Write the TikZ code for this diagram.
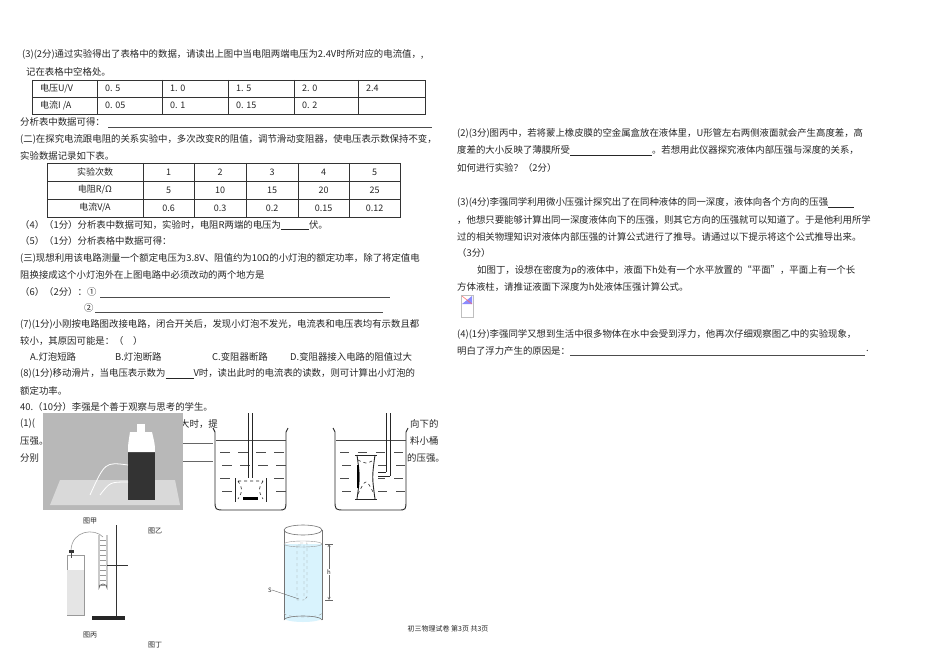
\documentclass[tikz,border=0pt]{standalone}
\usepackage{fontspec}
\setmainfont{Noto Sans CJK SC}
\begin{document}
\begin{tikzpicture}[x=1pt,y=-1pt,
  t/.style={anchor=west,inner sep=0pt,font=\fontsize{9.4}{10}\selectfont,text=black!85},
  tc/.style={inner sep=0pt,font=\fontsize{9}{10}\selectfont,text=black!85},
  tbl/.style={draw=black!80,line width=0.6pt},
  uline/.style={draw=black!70,line width=0.5pt},
  bk/.style={draw=black!85,line width=0.9pt},
  wl/.style={draw=black!70,line width=0.7pt}]
\useasboundingbox (0,0) rectangle (950,671);
\fill[white] (0,0) rectangle (950,671);
% left column
\node[t] (l1) at (22,54) {(3)(2分)通过实验得出了表格中的数据，请读出上图中当电阻两端电压为2.4V时所对应的电流值，,};
\node[t] (l2) at (26,72) {记在表格中空格处。};
\draw[tbl] (32,80) rectangle (425,114);
\draw[tbl] (32,97) -- (425,97);
\foreach \x in {97,162,228,294,358} \draw[tbl] (\x,80) -- (\x,114);
\foreach \x/\a/\b in {36/{电压U/V}/{电流I /A},101/0. 5/0. 05,166/1. 0/0. 1,232/1. 5/0. 15,298/2. 0/0. 2,362/2.4/{}}{
  \node[t,font=\fontsize{9}{10}\selectfont] at (\x+4,88.5) {\a}; \node[t,font=\fontsize{9}{10}\selectfont] at (\x+4,105.5) {\b};}
\node[t] (l3) at (20,122) {分析表中数据可得：};
\draw[uline] (108,127) -- (432,127);
\node[t] (l4) at (20,139) {(二)在探究电流跟电阻的关系实验中，多次改变R的阻值，调节滑动变阻器，使电压表示数保持不变，};
\node[t] (l5) at (20,156) {实验数据记录如下表。};
\draw[tbl] (47,163) rectangle (400,217);
\draw[tbl] (47,181) -- (400,181); \draw[tbl] (47,199) -- (400,199);
\foreach \x in {143,194,246,298,349} \draw[tbl] (\x,163) -- (\x,217);
\node[tc] at (95,172) {实验次数}; \node[tc] at (95,190) {电阻R/Ω}; \node[tc] at (95,208) {电流V/A};
\foreach \x/\a/\b/\c in {168.5/1/5/0.6,220/2/10/0.3,272/3/15/0.2,323.5/4/20/0.15,374.5/5/25/0.12}{
  \node[tc] at (\x,172) {\a}; \node[tc] at (\x,190) {\b}; \node[tc] at (\x,208) {\c};}
\node[t] (l6) at (20,225) {（4）（1分）分析表中数据可知，实验时，电阻R两端的电压为\underline{\hspace{28pt}}伏。};
\node[t] (l7) at (20,241) {（5）（1分）分析表格中数据可得：};
\node[t] (l8) at (20,258) {(三)现想利用该电路测量一个额定电压为3.8V、阻值约为10Ω的小灯泡的额定功率，除了将定值电};
\node[t] (l9) at (20,275) {阻换接成这个小灯泡外在上图电路中必须改动的两个地方是};
\node[t] (l10) at (20,292) {（6）（2分）：①};
\draw[uline] (100,297) -- (390,297);
\node[t] (l11) at (84,308) {②};
\draw[uline] (95,312) -- (383,312);
\node[t] (l12) at (20,324) {(7)(1分)小刚按电路图改接电路，闭合开关后，发现小灯泡不发光，电流表和电压表均有示数且都};
\node[t] (l13) at (20,341) {较小，其原因可能是：（\quad ）};
\node[t] (o1) at (30,357) {A.灯泡短路}; \node[t] (o2) at (115,357) {B.灯泡断路};
\node[t] (o3) at (212,357) {C.变阻器断路}; \node[t] (o4) at (290,357) {D.变阻器接入电路的阻值过大};
\node[t] (l14) at (20,374) {(8)(1分)移动滑片，当电压表示数为\underline{\hspace{28pt}}V时，读出此时的电流表的读数，则可计算出小灯泡的};
\node[t] (l15) at (20,391) {额定功率。};
\node[t] (l16) at (20,407) {40.（10分）李强是个善于观察与思考的学生。};
\node[t] (l17) at (20,424) {(1)(};
\node[t] (l18) at (20,441) {压强。};
\node[t] (l19) at (20,458) {分别};
\node[t] (l20) at (180,424) {大时，提};
\node[t] (l21) at (410,424) {向下的};
\node[t] (l22) at (410,441) {料小桶};
\node[t] (l23) at (407,458) {的压强。};
\draw[black!60,line width=0.5pt] (183,443) -- (213,443);
\draw[black!60,line width=0.5pt] (183,461) -- (213,461);
% photo 甲
\fill[black!28] (43,413) rectangle (183,510);
\fill[white!85!black] (60,480) -- (175,480) -- (180,505) -- (50,505) -- cycle;
\fill[black!80] (128,452) rectangle (155,500);
\fill[white] (130,432) .. controls (128,445) .. (128,452) -- (155,452) .. controls (155,445) .. (152,432) -- cycle;
\fill[white] (137,424) rectangle (145,432);
\draw[white,line width=0.8pt] (128,465) .. controls (105,462) .. (90,495);
\draw[white,line width=0.8pt] (128,482) .. controls (110,482) .. (100,495);
\node[tc,font=\fontsize{7}{8}\selectfont] (jia) at (90,521) {图甲};
\node[tc,font=\fontsize{7}{8}\selectfont] (yi) at (155,531) {图乙};
% beaker 1
\draw[bk] (213,428) -- (215,432) -- (215,500) .. controls (215,510) .. (225,510) -- (278,510) .. controls (286,510) .. (286,500) -- (286,432) -- (288,428);
\draw[wl] (216,440) -- (286,440);
\foreach \y/\s in {452/0,465/8,478/0,491/8}{
 \foreach \x in {220,238,256,274} \draw[wl] (\x+\s*0.3,\y) -- ++(10,0);}
\fill[white] (233,478) rectangle (268,502);
\draw[bk] (248,413) -- (248,478); \draw[bk] (252,413) -- (252,478);
\draw[bk] (235,478) -- (235,502); \draw[bk] (266,478) -- (266,502);
\draw[bk,dashed,line width=0.6pt] (238,481) -- (263,481) (238,481) .. controls (243,490) .. (238,499) (263,481) .. controls (258,490) .. (263,499);
\fill[black] (243,497) rectangle (258,500);
% beaker 2
\draw[bk] (333,428) -- (335,432) -- (335,500) .. controls (335,510) .. (345,510) -- (398,510) .. controls (406,510) .. (406,500) -- (406,432) -- (408,428);
\draw[wl] (336,440) -- (406,440);
\foreach \y/\s in {452/0,465/8,478/0,491/8}{
 \foreach \x in {340,358,376,394} \draw[wl] (\x+\s*0.3,\y) -- ++(9,0);}
\draw[bk] (386,413) -- (386,472); \draw[bk] (390,413) -- (390,476);
\draw[bk] (377,472) -- (386,472); \draw[bk] (377,476) -- (390,476);
\fill[white] (354,454) rectangle (378,500);
\draw[bk] (355,455) -- (377,455); \draw[bk] (355,499) -- (377,499);
\draw[bk] (357,455) .. controls (360,477) .. (357,499); \draw[bk] (375,455) .. controls (372,477) .. (375,499);
\draw[bk,dashed,line width=0.6pt] (358,460) .. controls (366,464) .. (374,460);
\draw[bk,dashed,line width=0.6pt] (358,494) .. controls (366,478) .. (374,494);
\fill[black] (357,465) rectangle (359,488);
% 丙
\draw[black!40,line width=0.7pt] (67,555) rectangle (84,615);
\fill[black!10] (67,570) rectangle (84,615);
\draw[black!70,line width=1pt] (71,551) -- (71,558);
\fill[black!80] (69,550) rectangle (74,553);
\draw[black!40,line width=0.6pt] (71,550) .. controls (72,530) and (95,528) .. (103,537);
\draw[black!60,line width=0.7pt] (99,535) -- (99,588) arc[start angle=180,end angle=360,radius=4] -- (107,535);
\foreach \y in {540,545,...,585} \draw[black!40,line width=0.3pt] (100,\y) -- (106,\y);
\draw[black!80,line width=1pt] (116,525) -- (116,617);
\draw[black!80,line width=1pt] (107,565) -- (128,565);
\fill[black!85] (92,616) rectangle (125,620);
\node[tc,font=\fontsize{7}{8}\selectfont] (bing) at (90,635) {图丙};
\node[tc,font=\fontsize{7}{8}\selectfont] (ding) at (155,645) {图丁};
% 丁 cylinder
\fill[cyan!15] (284,544) rectangle (322,618);
\fill[cyan!15] (303,618) ellipse[x radius=19,y radius=4];
\draw[black!55,line width=0.6pt] (303,530) ellipse[x radius=19,y radius=5];
\draw[black!55,line width=0.6pt] (284,530) -- (284,620); \draw[black!55,line width=0.6pt] (322,530) -- (322,620);
\draw[black!55,line width=0.6pt] (284,620) arc[start angle=180,end angle=360,x radius=19,y radius=4];
\draw[black!40,line width=0.4pt] (303,544) ellipse[x radius=19,y radius=3];
\draw[black!40,dashed,line width=0.4pt] (284,613) arc[start angle=180,end angle=0,x radius=19,y radius=4];
\draw[black!45,dashed,line width=0.4pt] (297,545) rectangle (304,600) (300,543) -- (307,543) -- (307,597) -- (304,600);
\draw[black!60,line width=0.4pt,<->,>=stealth] (329,544) -- (329,600);
\draw[black!60,line width=0.4pt] (325,544) -- (333,544) (325,600) -- (333,600);
\node[tc,font=\itshape\fontsize{6}{7}\selectfont,fill=white,inner sep=1pt] (h) at (329,572) {h};
\node[tc,font=\itshape\fontsize{6}{7}\selectfont] (S) at (270,590) {S};
\draw[black!60,line width=0.4pt] (S.east) -- (299,599);
\node[tc,font=\fontsize{7}{8}\selectfont] (foot) at (448,629) {初三物理试卷 第3页 共3页};
% right column
\node[t] (r1) at (457,133) {(2)(3分)图丙中，若将蒙上橡皮膜的空金属盒放在液体里，U形管左右两侧液面就会产生高度差，高};
\node[t] (r2) at (457,151) {度差的大小反映了薄膜所受\underline{\hspace{82pt}}。若想用此仪器探究液体内部压强与深度的关系，};
\node[t] (r3) at (457,168) {如何进行实验？（2分）};
\node[t] (r4) at (457,203) {(3)(4分)李强同学利用微小压强计探究出了在同种液体的同一深度，液体向各个方向的压强\underline{\hspace{26pt}}};
\node[t] (r5) at (457,220) {，他想只要能够计算出同一深度液体向下的压强，则其它方向的压强就可以知道了。于是他利用所学};
\node[t] (r6) at (457,237) {过的相关物理知识对液体内部压强的计算公式进行了推导。请通过以下提示将这个公式推导出来。};
\node[t] (r7) at (457,253) {（3分）};
\node[t] (r8) at (477,270) {如图丁，设想在密度为ρ的液体中，液面下h处有一个水平放置的“平面”，平面上有一个长};
\node[t] (r9) at (457,287) {方体液柱，请推证液面下深度为h处液体压强计算公式。};
\draw[black!25,line width=0.5pt] (461,295) rectangle (473,317);
\fill[blue!45] (462,304) -- (472,296) -- (472,304) -- cycle;
\draw[red!60,line width=0.5pt] (462,296) -- (472,304);
\node[t] (r10) at (457,334) {(4)(1分)李强同学又想到生活中很多物体在水中会受到浮力，他再次仔细观察图乙中的实验现象，};
\node[t] (r11) at (457,351) {明白了浮力产生的原因是：};
\draw[uline] (570,355) -- (865,355);
\node[t] at (866,351) {.};
\end{tikzpicture}
\end{document}
